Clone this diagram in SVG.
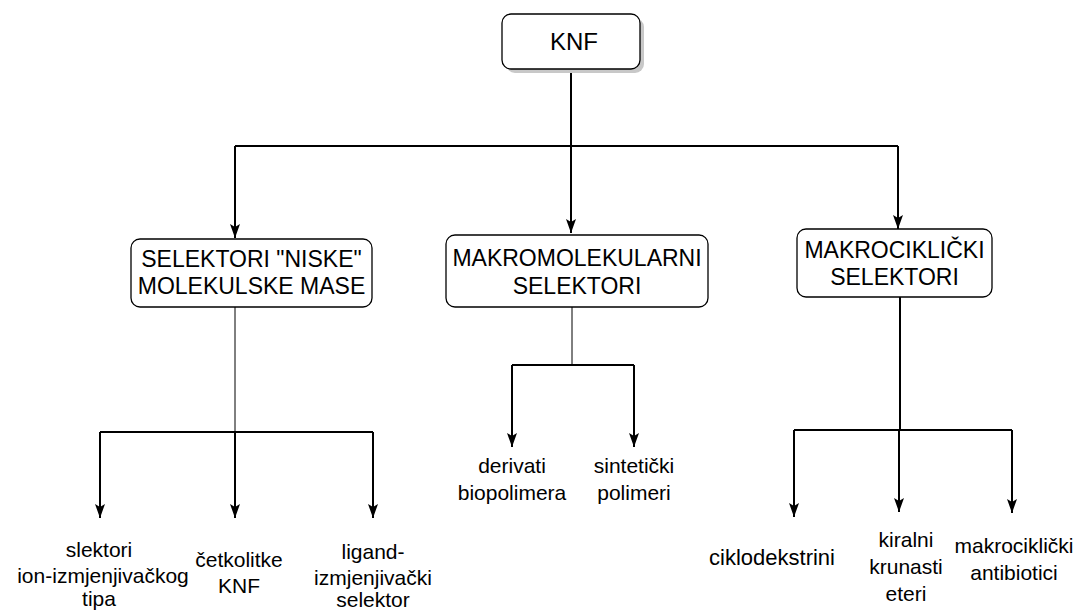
<svg xmlns="http://www.w3.org/2000/svg" width="1077" height="612" viewBox="0 0 1077 612">
<defs>
<marker id="arr" markerWidth="14" markerHeight="10" refX="14" refY="5" orient="auto" markerUnits="userSpaceOnUse" viewBox="0 0 14 10">
<path d="M0,0 L14,5 L0,10 L3,5 Z" fill="#000"/>
</marker>
<style>
.box{fill:#fff;stroke:#000;stroke-width:1.3}
.t{font-family:"Liberation Sans",Arial,sans-serif;font-size:23px;fill:#000;text-anchor:middle}
.s{font-family:"Liberation Sans",Arial,sans-serif;font-size:21px;fill:#000;text-anchor:middle}
.c{fill:none;stroke:#000;stroke-width:2}
.thin{fill:none;stroke:#000;stroke-width:1}
</style>
</defs>
<rect width="1077" height="612" fill="#fff"/>
<g id="connectors">
<path class="c" d="M571,69 V155"/>
<path class="c" d="M235,146 H898"/>
<path class="c" d="M235,146 V238" marker-end="url(#arr)"/>
<path class="c" d="M898,146 V229" marker-end="url(#arr)"/>
<path class="c" d="M571,146 V233" marker-end="url(#arr)"/>
<path class="thin" d="M235,307 V432"/>
<path class="c" d="M100,432 H373"/>
<path class="c" d="M100,432 V518" marker-end="url(#arr)"/>
<path class="c" d="M235,432 V518" marker-end="url(#arr)"/>
<path class="c" d="M373,432 V518" marker-end="url(#arr)"/>
<path class="thin" d="M572,307 V365"/>
<path class="c" d="M512,365 H634"/>
<path class="c" d="M512,365 V447" marker-end="url(#arr)"/>
<path class="c" d="M634,365 V447" marker-end="url(#arr)"/>
<path class="c" d="M900,297 V430"/>
<path class="c" d="M794,430 H1012"/>
<path class="c" d="M794,430 V517" marker-end="url(#arr)"/>
<path class="c" d="M899,430 V512" marker-end="url(#arr)"/>
<path class="c" d="M1012,430 V513" marker-end="url(#arr)"/>
</g>
<g id="knf">
<rect x="506" y="18" width="138" height="55" rx="9" fill="#c8c8c8"/>
<rect class="box" x="502" y="14" width="138" height="55" rx="9"/>
<text class="t" x="574" y="50" style="font-size:24px">KNF</text>
</g>
<g id="selektori-niske">
<rect class="box" x="131" y="239" width="241" height="68" rx="9"/>
<text class="t" x="251.5" y="267">SELEKTORI "NISKE"</text>
<text class="t" x="251.5" y="294">MOLEKULSKE MASE</text>
</g>
<g id="makromolekularni">
<rect class="box" x="446" y="235" width="262" height="72" rx="9"/>
<text class="t" x="577" y="266">MAKROMOLEKULARNI</text>
<text class="t" x="577" y="294">SELEKTORI</text>
</g>
<g id="makrociklicki">
<rect class="box" x="797" y="229" width="195" height="68" rx="9"/>
<text class="t" x="894.5" y="258">MAKROCIKLIČKI</text>
<text class="t" x="894.5" y="285">SELEKTORI</text>
</g>
<g id="ion">
<text class="s" x="99" y="557">slektori</text>
<text class="s" x="103" y="583">ion-izmjenjivačkog</text>
<text class="s" x="99" y="606">tipa</text>
</g>
<g id="cetkolitke">
<text class="s" x="239" y="567">četkolitke</text>
<text class="s" x="239" y="593">KNF</text>
</g>
<g id="ligand">
<text class="s" x="373" y="559">ligand-</text>
<text class="s" x="373" y="585">izmjenjivački</text>
<text class="s" x="373" y="607">selektor</text>
</g>
<g id="derivati">
<text class="s" x="512" y="473">derivati</text>
<text class="s" x="512" y="500">biopolimera</text>
</g>
<g id="sinteticki">
<text class="s" x="634" y="473">sintetički</text>
<text class="s" x="634" y="500">polimeri</text>
</g>
<g id="ciklodekstrini">
<text class="s" x="772" y="565" style="font-size:22px">ciklodekstrini</text>
</g>
<g id="kiralni">
<text class="s" x="906" y="547">kiralni</text>
<text class="s" x="906" y="574">krunasti</text>
<text class="s" x="906" y="601">eteri</text>
</g>
<g id="antibiotici">
<text class="s" x="1014" y="553">makrociklički</text>
<text class="s" x="1014" y="580">antibiotici</text>
</g>
</svg>
